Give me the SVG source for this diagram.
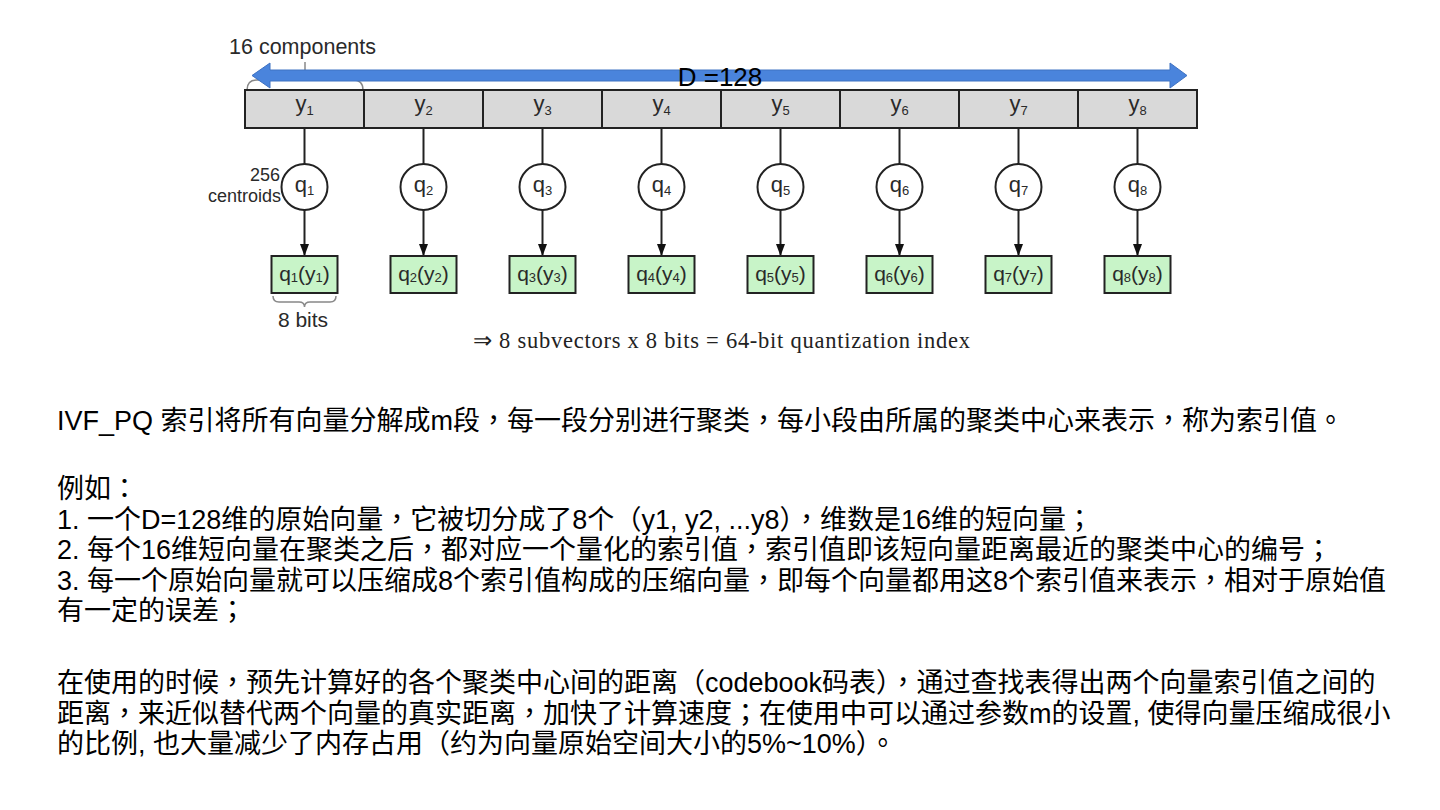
<svg xmlns="http://www.w3.org/2000/svg" width="1440" height="810" viewBox="0 0 1440 810">
<defs>
<style>
.d{font-family:"Liberation Sans",Arial,sans-serif;fill:#2a2a2a}
.cell{fill:#d9d9d9;stroke:#222;stroke-width:2}
.circ{fill:#fff;stroke:#222;stroke-width:2}
.box{fill:#c8f4c8;stroke:#222;stroke-width:2}
.lbl{font-size:22px;text-anchor:middle}
.blbl{font-size:21px;text-anchor:middle}
.conn{stroke:#222;stroke-width:2;fill:none}
.brace{stroke:#888;stroke-width:1.5;fill:none}
.body{font-family:"Liberation Sans","Noto Sans CJK SC",sans-serif;font-size:27px;fill:#000}
.p{font-family:"Noto Sans CJK TC","Noto Sans CJK SC",sans-serif}
</style>
<marker id="ah" viewBox="0 0 10 10" refX="10" refY="5" markerWidth="12" markerHeight="9" markerUnits="userSpaceOnUse" orient="auto" preserveAspectRatio="none">
<path d="M0,0 L10,5 L0,10 z" fill="#111"/>
</marker>
</defs>
<rect width="1440" height="810" fill="#fff"/>

<g id="components-label">
<text class="d" x="229" y="54" font-size="21.5">16 components</text>
<line x1="305" y1="62" x2="305" y2="72" stroke="#888" stroke-width="1.5"/>
<path class="brace" d="M247,90 Q247,80 257,80 L353,80 Q363,80 363,90"/>
</g>

<g id="dimension-arrow">
<polygon points="252,75.5 270,63 270,70 1170,70 1170,63 1187,75.5 1170,88 1170,81 270,81 270,88" fill="#4a84dc" stroke="#3f72c2" stroke-width="1"/>
<text x="720" y="86" font-family="Liberation Sans,Arial,sans-serif" font-size="26" text-anchor="middle" fill="#000">D =128</text>
</g>

<g id="connectors">
<line class="conn" x1="304.5" y1="128" x2="304.5" y2="164"/>
<line class="conn" x1="423.5" y1="128" x2="423.5" y2="164"/>
<line class="conn" x1="542.5" y1="128" x2="542.5" y2="164"/>
<line class="conn" x1="661.5" y1="128" x2="661.5" y2="164"/>
<line class="conn" x1="780.5" y1="128" x2="780.5" y2="164"/>
<line class="conn" x1="899.5" y1="128" x2="899.5" y2="164"/>
<line class="conn" x1="1018.5" y1="128" x2="1018.5" y2="164"/>
<line class="conn" x1="1137.5" y1="128" x2="1137.5" y2="164"/>
<line class="conn" x1="304.5" y1="210" x2="304.5" y2="256" marker-end="url(#ah)"/>
<line class="conn" x1="423.5" y1="210" x2="423.5" y2="256" marker-end="url(#ah)"/>
<line class="conn" x1="542.5" y1="210" x2="542.5" y2="256" marker-end="url(#ah)"/>
<line class="conn" x1="661.5" y1="210" x2="661.5" y2="256" marker-end="url(#ah)"/>
<line class="conn" x1="780.5" y1="210" x2="780.5" y2="256" marker-end="url(#ah)"/>
<line class="conn" x1="899.5" y1="210" x2="899.5" y2="256" marker-end="url(#ah)"/>
<line class="conn" x1="1018.5" y1="210" x2="1018.5" y2="256" marker-end="url(#ah)"/>
<line class="conn" x1="1137.5" y1="210" x2="1137.5" y2="256" marker-end="url(#ah)"/>
</g>

<g id="y1"><rect class="cell" x="245" y="90" width="119" height="38"/><text class="d lbl" x="304.5" y="111">y<tspan font-size="13" dy="4">1</tspan></text></g>
<g id="y2"><rect class="cell" x="364" y="90" width="119" height="38"/><text class="d lbl" x="423.5" y="111">y<tspan font-size="13" dy="4">2</tspan></text></g>
<g id="y3"><rect class="cell" x="483" y="90" width="119" height="38"/><text class="d lbl" x="542.5" y="111">y<tspan font-size="13" dy="4">3</tspan></text></g>
<g id="y4"><rect class="cell" x="602" y="90" width="119" height="38"/><text class="d lbl" x="661.5" y="111">y<tspan font-size="13" dy="4">4</tspan></text></g>
<g id="y5"><rect class="cell" x="721" y="90" width="119" height="38"/><text class="d lbl" x="780.5" y="111">y<tspan font-size="13" dy="4">5</tspan></text></g>
<g id="y6"><rect class="cell" x="840" y="90" width="119" height="38"/><text class="d lbl" x="899.5" y="111">y<tspan font-size="13" dy="4">6</tspan></text></g>
<g id="y7"><rect class="cell" x="959" y="90" width="119" height="38"/><text class="d lbl" x="1018.5" y="111">y<tspan font-size="13" dy="4">7</tspan></text></g>
<g id="y8"><rect class="cell" x="1078" y="90" width="119" height="38"/><text class="d lbl" x="1137.5" y="111">y<tspan font-size="13" dy="4">8</tspan></text></g>

<g id="centroids-label">
<text class="d" x="280" y="181" font-size="18" text-anchor="end" fill="#444">256</text>
<text class="d" x="281" y="202" font-size="18" text-anchor="end" fill="#444">centroids</text>
</g>

<g id="q1"><circle class="circ" cx="304.5" cy="187" r="23"/><text class="d lbl" x="304.5" y="192">q<tspan font-size="13" dy="3">1</tspan></text></g>
<g id="q2"><circle class="circ" cx="423.5" cy="187" r="23"/><text class="d lbl" x="423.5" y="192">q<tspan font-size="13" dy="3">2</tspan></text></g>
<g id="q3"><circle class="circ" cx="542.5" cy="187" r="23"/><text class="d lbl" x="542.5" y="192">q<tspan font-size="13" dy="3">3</tspan></text></g>
<g id="q4"><circle class="circ" cx="661.5" cy="187" r="23"/><text class="d lbl" x="661.5" y="192">q<tspan font-size="13" dy="3">4</tspan></text></g>
<g id="q5"><circle class="circ" cx="780.5" cy="187" r="23"/><text class="d lbl" x="780.5" y="192">q<tspan font-size="13" dy="3">5</tspan></text></g>
<g id="q6"><circle class="circ" cx="899.5" cy="187" r="23"/><text class="d lbl" x="899.5" y="192">q<tspan font-size="13" dy="3">6</tspan></text></g>
<g id="q7"><circle class="circ" cx="1018.5" cy="187" r="23"/><text class="d lbl" x="1018.5" y="192">q<tspan font-size="13" dy="3">7</tspan></text></g>
<g id="q8"><circle class="circ" cx="1137.5" cy="187" r="23"/><text class="d lbl" x="1137.5" y="192">q<tspan font-size="13" dy="3">8</tspan></text></g>

<g id="code1"><rect class="box" x="271.5" y="256" width="66" height="37"/><text class="d blbl" x="304.5" y="281">q<tspan font-size="13" dy="1">1</tspan><tspan dy="-1">(y</tspan><tspan font-size="13" dy="1">1</tspan><tspan dy="-1">)</tspan></text></g>
<g id="code2"><rect class="box" x="390.5" y="256" width="66" height="37"/><text class="d blbl" x="423.5" y="281">q<tspan font-size="13" dy="1">2</tspan><tspan dy="-1">(y</tspan><tspan font-size="13" dy="1">2</tspan><tspan dy="-1">)</tspan></text></g>
<g id="code3"><rect class="box" x="509.5" y="256" width="66" height="37"/><text class="d blbl" x="542.5" y="281">q<tspan font-size="13" dy="1">3</tspan><tspan dy="-1">(y</tspan><tspan font-size="13" dy="1">3</tspan><tspan dy="-1">)</tspan></text></g>
<g id="code4"><rect class="box" x="628.5" y="256" width="66" height="37"/><text class="d blbl" x="661.5" y="281">q<tspan font-size="13" dy="1">4</tspan><tspan dy="-1">(y</tspan><tspan font-size="13" dy="1">4</tspan><tspan dy="-1">)</tspan></text></g>
<g id="code5"><rect class="box" x="747.5" y="256" width="66" height="37"/><text class="d blbl" x="780.5" y="281">q<tspan font-size="13" dy="1">5</tspan><tspan dy="-1">(y</tspan><tspan font-size="13" dy="1">5</tspan><tspan dy="-1">)</tspan></text></g>
<g id="code6"><rect class="box" x="866.5" y="256" width="66" height="37"/><text class="d blbl" x="899.5" y="281">q<tspan font-size="13" dy="1">6</tspan><tspan dy="-1">(y</tspan><tspan font-size="13" dy="1">6</tspan><tspan dy="-1">)</tspan></text></g>
<g id="code7"><rect class="box" x="985.5" y="256" width="66" height="37"/><text class="d blbl" x="1018.5" y="281">q<tspan font-size="13" dy="1">7</tspan><tspan dy="-1">(y</tspan><tspan font-size="13" dy="1">7</tspan><tspan dy="-1">)</tspan></text></g>
<g id="code8"><rect class="box" x="1104.5" y="256" width="66" height="37"/><text class="d blbl" x="1137.5" y="281">q<tspan font-size="13" dy="1">8</tspan><tspan dy="-1">(y</tspan><tspan font-size="13" dy="1">8</tspan><tspan dy="-1">)</tspan></text></g>

<g id="bits-label">
<path class="brace" d="M273,296 Q273,302 279,302 L299,302 Q304.5,302 304.5,307 Q304.5,302 310,302 L330,302 Q336,302 336,296"/>
<text class="d" x="303" y="327" font-size="21" text-anchor="middle" fill="#222">8 bits</text>
</g>

<g id="formula">
<text x="473" y="348" font-family="Liberation Serif,'Times New Roman',serif" font-size="22.5" fill="#222" textLength="497" lengthAdjust="spacing">⇒ 8 subvectors x 8 bits = 64-bit quantization index</text>
</g>

<g id="description" class="body">
<text x="57" y="430">IVF_PQ 索引将所有向量分解成m段<tspan class="p">，</tspan>每一段分别进行聚类<tspan class="p">，</tspan>每小段由所属的聚类中心来表示<tspan class="p">，</tspan>称为索引值<tspan class="p">。</tspan></text>
<text x="57" y="498">例如<tspan class="p">：</tspan></text>
<text x="57" y="529">1. 一个D=128维的原始向量<tspan class="p">，</tspan>它被切分成了8个<tspan class="p">（</tspan>y1, y2, ...y8<tspan class="p">）</tspan><tspan class="p">，</tspan>维数是16维的短向量<tspan class="p">；</tspan></text>
<text x="57" y="559">2. 每个16维短向量在聚类之后<tspan class="p">，</tspan>都对应一个量化的索引值<tspan class="p">，</tspan>索引值即该短向量距离最近的聚类中心的编号<tspan class="p">；</tspan></text>
<text x="57" y="590">3. 每一个原始向量就可以压缩成8个索引值构成的压缩向量<tspan class="p">，</tspan>即每个向量都用这8个索引值来表示<tspan class="p">，</tspan>相对于原始值</text>
<text x="57" y="620">有一定的误差<tspan class="p">；</tspan></text>
<text x="57" y="692">在使用的时候<tspan class="p">，</tspan>预先计算好的各个聚类中心间的距离<tspan class="p">（</tspan>codebook码表<tspan class="p">）</tspan><tspan class="p">，</tspan>通过查找表得出两个向量索引值之间的</text>
<text x="57" y="723">距离<tspan class="p">，</tspan>来近似替代两个向量的真实距离<tspan class="p">，</tspan>加快了计算速度<tspan class="p">；</tspan>在使用中可以通过参数m的设置, 使得向量压缩成很小</text>
<text x="57" y="753">的比例, 也大量减少了内存占用<tspan class="p">（</tspan>约为向量原始空间大小的5%~10%<tspan class="p">）</tspan><tspan class="p">。</tspan></text>
</g>
</svg>
